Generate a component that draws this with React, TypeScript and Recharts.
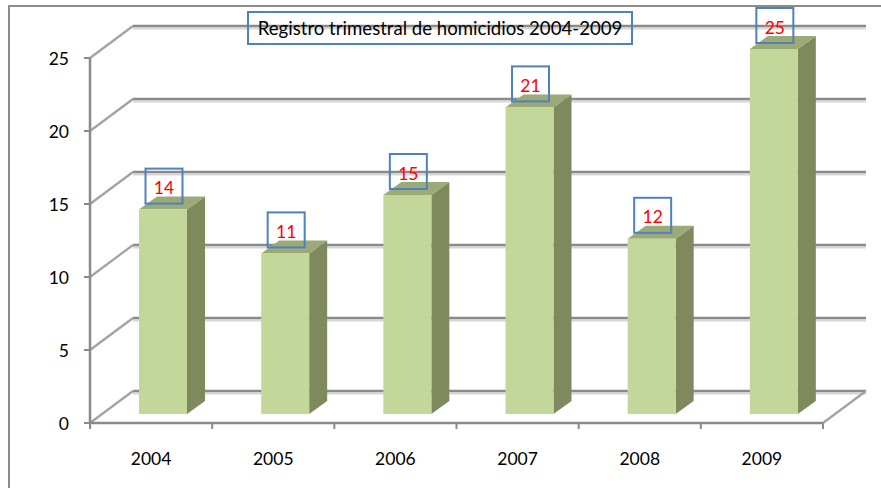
import React from 'react';
import { BarChart, Bar, XAxis, YAxis, CartesianGrid, LabelList } from 'recharts';

// ---- data ----
const years = ['2004', '2005', '2006', '2007', '2008', '2009'];
const homicides = [14, 11, 15, 21, 12, 25];
const yTicks = [0, 5, 10, 15, 20, 25];
const chartTitle = 'Registro trimestral de homicidios 2004-2009';

const data = years.map((year, i) => ({ year, value: homicides[i] }));

// ---- layout ----
const W = 881;
const H = 488;
const MARGIN = { top: 49, right: 46, bottom: 44, left: 42 };
const Y_AXIS_W = 60;
const X_AXIS_H = 30;
const PLOT_LEFT = MARGIN.left + Y_AXIS_W;
const PLOT_RIGHT = W - MARGIN.right;
const PLOT_TOP = MARGIN.top;
const PLOT_BOTTOM = H - MARGIN.bottom - X_AXIS_H;
// oblique projection offsets (front plane and back wall relative to bar plane)
const FX = -12;
const FY = 9;
const BX = 31;
const BY = -23;
const BAR_DX = 18;
const BAR_DY = 13;

const FONT = 'Lato, "Open Sans", sans-serif';
const GRID = '#8a8a8a';

const gridLine = (p: any) => {
  const { x1, x2, y1 } = p;
  const isBottom = Math.abs(y1 - PLOT_BOTTOM) < 1;
  const isTop = Math.abs(y1 - PLOT_TOP) < 1;
  return (
    <g key={p.key}>
      <line x1={x1 + BX} y1={y1 + BY + 2.5} x2={x2 + BX} y2={y1 + BY + 2.5} stroke="#d6d6d6" strokeWidth={2} />
      <line x1={x1 + BX} y1={y1 + BY} x2={x2 + BX} y2={y1 + BY} stroke={GRID} strokeWidth={2.5} />
      <line x1={x1 + FX} y1={y1 + FY} x2={x1 + BX} y2={y1 + BY} stroke="#a2a2a2" strokeWidth={2.2} />
      {isBottom && (
        <>
          <line x1={x1 + FX} y1={y1 + FY} x2={x2 + FX} y2={y1 + FY} stroke={GRID} strokeWidth={2.5} />
          <line x1={x2 + FX} y1={y1 + FY} x2={x2 + BX} y2={y1 + BY} stroke="#a2a2a2" strokeWidth={2.2} />
        </>
      )}
      {isTop && (
        <line x1={x1 + FX} y1={y1 + FY} x2={x1 + FX} y2={PLOT_BOTTOM + FY} stroke={GRID} strokeWidth={2.5} />
      )}
    </g>
  );
};

const Box3D = (p: any) => {
  const { x, y, width, height } = p;
  if (!height || height <= 0) return null;
  const xr = x + width;
  const yb = y + height;
  return (
    <g>
      <polygon
        points={`${xr},${y} ${xr + BAR_DX},${y - BAR_DY} ${xr + BAR_DX},${yb - BAR_DY} ${xr},${yb}`}
        fill="#7E8A5E"
      />
      <polygon
        points={`${x},${y} ${x + BAR_DX},${y - BAR_DY} ${xr + BAR_DX},${y - BAR_DY} ${xr},${y}`}
        fill="#9BAA76"
      />
      <rect x={x} y={y} width={width} height={height} fill="#C4D79B" />
    </g>
  );
};

const ValueBox = (p: any) => {
  const { x, y, width, value } = p;
  const cx = x + width / 2 + 1;
  return (
    <g>
      <rect x={cx - 18.5} y={y - 41} width={37} height={35} fill="none" stroke="#4F81BD" strokeWidth={2} />
      <text
        x={cx}
        y={y - 22}
        textAnchor="middle"
        dominantBaseline="central"
        fill="#FF0000"
        fontSize={17.5}
        fontFamily={FONT}
      >
        {value}
      </text>
    </g>
  );
};

const YTick = (p: any) => {
  const { y, payload } = p;
  const ax = PLOT_LEFT + FX;
  const yy = y + FY;
  return (
    <g>
      <line x1={ax - 6} y1={yy} x2={ax} y2={yy} stroke={GRID} strokeWidth={2} />
      <text x={ax - 21} y={yy} textAnchor="end" dominantBaseline="central" fill="#000" fontSize={17.5} fontFamily={FONT}>
        {payload.value}
      </text>
    </g>
  );
};

const XTick = (p: any) => {
  const { x, payload, index } = p;
  const band = (PLOT_RIGHT - PLOT_LEFT) / years.length;
  const fy = PLOT_BOTTOM + FY;
  const left = x - band / 2 + FX;
  return (
    <g>
      <line x1={left} y1={fy} x2={left} y2={fy + 6} stroke={GRID} strokeWidth={2} />
      {index === years.length - 1 && (
        <line x1={left + band} y1={fy} x2={left + band} y2={fy + 6} stroke={GRID} strokeWidth={2} />
      )}
      <text x={x + FX} y={PLOT_BOTTOM + 44} textAnchor="middle" dominantBaseline="central" fill="#000" fontSize={17.5} fontFamily={FONT}>
        {payload.value}
      </text>
    </g>
  );
};

export default function App() {
  return (
    <div style={{ position: 'absolute', left: 0, top: 0, width: W, height: H, overflow: 'hidden', background: '#fff' }}>
      <div
        style={{
          position: 'absolute',
          left: 8,
          top: 5,
          width: 920,
          height: 520,
          border: '2px solid #8c8c8c',
          boxSizing: 'border-box',
        }}
      />
      <BarChart width={W} height={H} data={data} margin={MARGIN} style={{ position: 'absolute', left: 0, top: 0 }}>
        <CartesianGrid horizontal={gridLine} vertical={false} />
        <XAxis dataKey="year" height={X_AXIS_H} axisLine={false} tickLine={false} tick={<XTick />} interval={0} />
        <YAxis
          width={Y_AXIS_W}
          domain={[0, 25]}
          ticks={yTicks}
          axisLine={false}
          tickLine={false}
          tick={<YTick />}
          interval={0}
        />
        <Bar dataKey="value" barSize={48} shape={<Box3D />} isAnimationActive={false}>
          <LabelList dataKey="value" content={<ValueBox />} />
        </Bar>
      </BarChart>
      <div
        style={{
          position: 'absolute',
          left: 247,
          top: 11,
          width: 386,
          height: 34,
          boxSizing: 'border-box',
          border: '2px solid #4F81BD',
          fontFamily: FONT,
          fontSize: 18.6,
          color: '#000',
          display: 'flex',
          alignItems: 'center',
          justifyContent: 'center',
          whiteSpace: 'nowrap',
        }}
      >
        {chartTitle}
      </div>
    </div>
  );
}
